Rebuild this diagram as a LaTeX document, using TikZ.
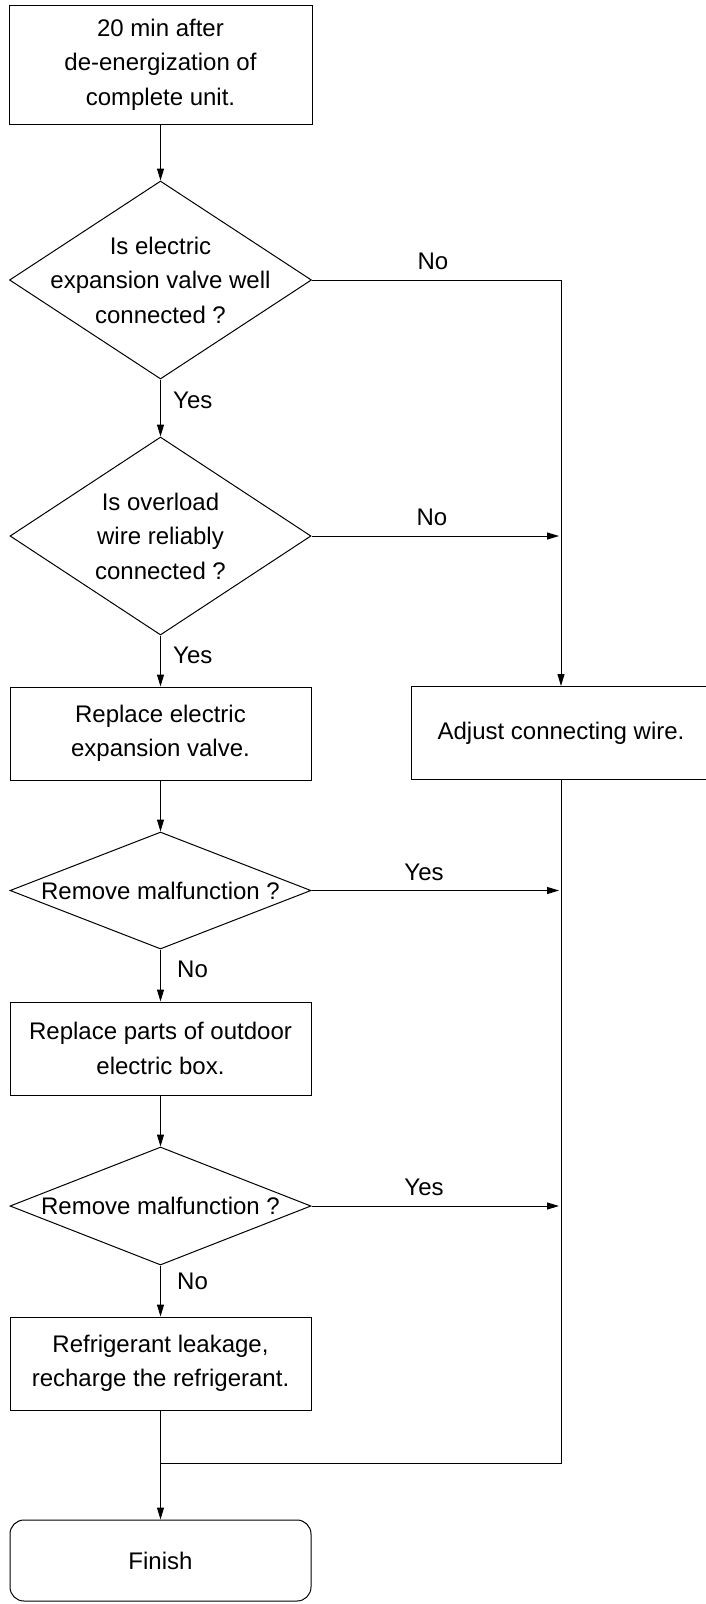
\documentclass[tikz,border=0pt]{standalone}
\usepackage{fontspec}
\setmainfont{Liberation Sans}
\usetikzlibrary{shapes.geometric,arrows.meta}
\begin{document}
\begin{tikzpicture}[x=1pt,y=-1pt,
  every node/.style={font=\fontsize{24}{34.5}\selectfont},
  box/.style={draw,line width=1pt,inner sep=0pt,align=center},
  dia/.style={draw,diamond,line width=1pt,inner sep=0pt},
  txt/.style={align=center,inner sep=0pt},
  lbl/.style={inner sep=0pt},
  conn/.style={line width=1pt},
  arr/.style={conn,-{Triangle[length=12pt,width=7pt]}}]
\useasboundingbox (0,0) rectangle (705,1604);

% nodes
\node[box,minimum width=303,minimum height=119] (start) at (160.5,64.5) {20 min after\\de-energization of\\complete unit.};
\node[dia,minimum width=302,minimum height=198] (d1) at (160.5,280) {};
\node[txt] (t1) at (d1) {Is electric\\expansion valve well\\connected ?};
\node[dia,minimum width=301,minimum height=198] (d2) at (160.5,536) {};
\node[txt] (t2) at (d2) {Is overload\\wire reliably\\connected ?};
\node[box,minimum width=301,minimum height=93] (b3) at (160.5,733.5) {Replace electric\\expansion valve.};
\node[box,minimum width=300,minimum height=93] (adj) at (561,733) {Adjust connecting wire.};
\node[dia,minimum width=301,minimum height=117] (d3) at (160.5,890.5) {};
\node[txt] (t3) at (d3) {Remove malfunction ?};
\node[box,minimum width=301,minimum height=93] (b4) at (160.5,1048.5) {Replace parts of outdoor\\electric box.};
\node[dia,minimum width=301,minimum height=118] (d4) at (160.5,1206) {};
\node[txt] (t4) at (d4) {Remove malfunction ?};
\node[box,minimum width=301,minimum height=93] (b5) at (160.5,1363.5) {Refrigerant leakage,\\recharge the refrigerant.};
\node[box,rounded corners=14pt,minimum width=301,minimum height=81] (finish) at (160.5,1560.5) {Finish};

% labels
\node[lbl] (no1) at (433,261) {No};
\node[lbl,anchor=west] (yes1) at (173,400) {Yes};
\node[lbl] (no2) at (432,517) {No};
\node[lbl,anchor=west] (yes2) at (173,655) {Yes};
\node[lbl] (yes3) at (424,872) {Yes};
\node[lbl,anchor=west] (no3) at (177,969) {No};
\node[lbl] (yes4) at (424,1187) {Yes};
\node[lbl,anchor=west] (no4) at (177,1281) {No};

% coordinates
\coordinate (r1) at (561,280);
\coordinate (r2) at (561,536);
\coordinate (r3) at (561,890.5);
\coordinate (r4) at (561,1206);
\coordinate (r5) at (561,1463);
\coordinate (m) at (160.5,1463);

% connectors
\draw[arr] (start.south) -- (d1.north);
\draw[arr] (d1.south) -- (d2.north);
\draw[arr] (d2.south) -- (b3.north);
\draw[arr] (b3.south) -- (d3.north);
\draw[arr] (d3.south) -- (b4.north);
\draw[arr] (b4.south) -- (d4.north);
\draw[arr] (d4.south) -- (b5.north);
\draw[arr] (d1.east) -- (r1) -- (adj.north);
\draw[arr,shorten >=2pt] (d2.east) -- (r2);
\draw[arr,shorten >=2pt] (d3.east) -- (r3);
\draw[arr,shorten >=2pt] (d4.east) -- (r4);
\draw[conn] (adj.south) -- (r5) -- (m);
\draw[arr] (b5.south) -- (m) -- (finish.north);
\end{tikzpicture}
\end{document}
